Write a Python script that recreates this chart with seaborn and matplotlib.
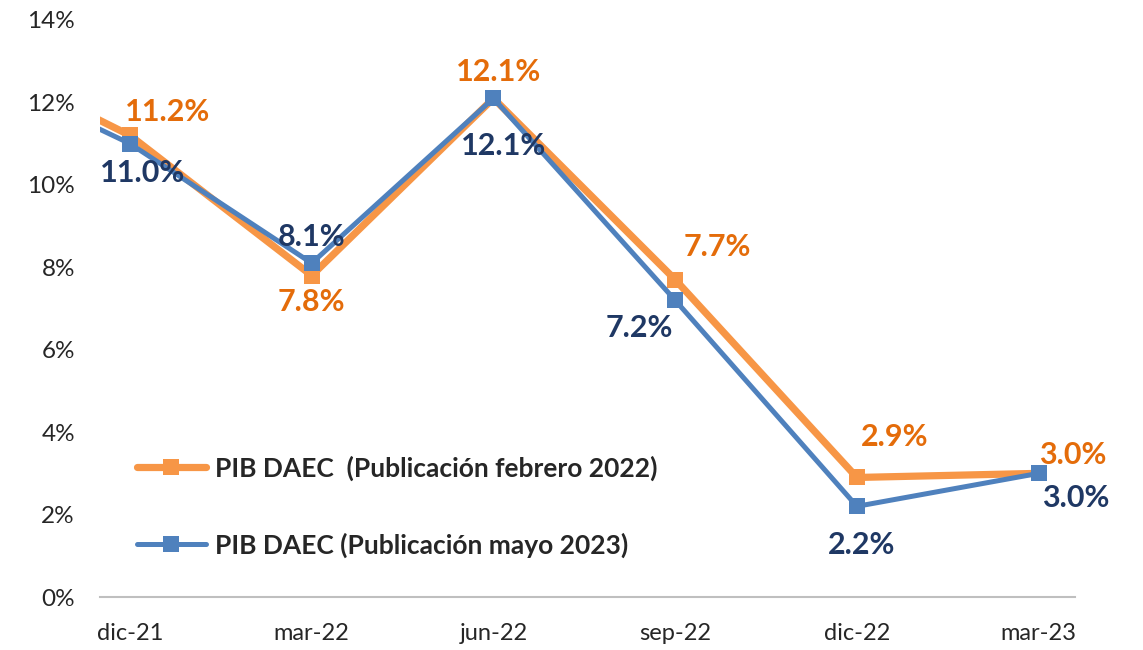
import matplotlib
matplotlib.use("Agg")
import matplotlib.pyplot as plt
import seaborn as sns
import pandas as pd
import numpy as np

# ---- data ----
periods = ["sep-21", "dic-21", "mar-22", "jun-22", "sep-22", "dic-22", "mar-23"]
pib_feb2022 = [13.4, 11.2, 7.8, 12.1, 7.7, 2.9, 3.0]
pib_may2023 = [13.1, 11.0, 8.1, 12.1, 7.2, 2.2, 3.0]
series_names = ["PIB DAEC  (Publicación febrero 2022)", "PIB DAEC (Publicación mayo 2023)"]
y_ticks = [0, 2, 4, 6, 8, 10, 12, 14]

# label offsets in pixels (styling)
off_orange = [None, (38, 23), (0, -26), (5, 26), (42, 33), (38, 40), (34, 18)]
off_blue = [None, (13, -29), (0, 26), (10, -48), (-36, -28), (5, -39), (37, -25)]

sns.set_style("white")
plt.rcParams["font.family"] = ["Lato", "DejaVu Sans"]

orange_line = "#F79646"
orange_text = "#E46C0A"
blue_line = "#4F81BD"
blue_text = "#1F3864"

x = np.arange(len(periods))
df = pd.DataFrame({"x": x, "feb": pib_feb2022, "may": pib_may2023})

fig = plt.figure(figsize=(11.43, 6.5), dpi=100)
ax = fig.add_axes([100 / 1143, 1 - 597 / 650, 975 / 1143, 577 / 650])

sns.lineplot(data=df, x="x", y="feb", ax=ax, color=orange_line, linewidth=5.2,
             marker="s", markersize=11.5, markeredgewidth=0, label=series_names[0],
             clip_on=True)
sns.lineplot(data=df, x="x", y="may", ax=ax, color=blue_line, linewidth=3.6,
             marker="s", markersize=11.5, markeredgewidth=0, label=series_names[1],
             clip_on=True)

ax.set_xlim(1 - 0.165, 6.20)
ax.set_ylim(0, 14)
ax.set_yticks(y_ticks)
ax.set_yticklabels([f"{v}%" for v in y_ticks], fontsize=17.5, color="#262626")
ax.tick_params(axis="y", length=0, pad=18)

shown = list(range(1, len(periods)))
ax.set_xticks([i - 0.165 for i in shown])
ax.set_xticklabels([])
ax.set_xticks(shown, minor=True)
ax.set_xticklabels([periods[i] for i in shown], minor=True, fontsize=17, color="#262626")
ax.tick_params(axis="x", which="major", length=7, color="#BFBFBF", width=1.2, direction="out")
ax.tick_params(axis="x", which="minor", length=0, pad=19)

for s in ["left", "top", "right"]:
    ax.spines[s].set_visible(False)
ax.spines["bottom"].set_color("#BFBFBF")
ax.spines["bottom"].set_linewidth(1.5)
ax.set_xlabel("")
ax.set_ylabel("")

for i in shown:
    ax.annotate(f"{pib_feb2022[i]:.1f}%", (x[i], pib_feb2022[i]), xytext=off_orange[i],
                textcoords="offset pixels", ha="center", va="center",
                fontsize=22, fontweight="bold", color=orange_text)
    ax.annotate(f"{pib_may2023[i]:.1f}%", (x[i], pib_may2023[i]), xytext=off_blue[i],
                textcoords="offset pixels", ha="center", va="center",
                fontsize=22, fontweight="bold", color=blue_text)

leg = ax.legend(loc="upper left", bbox_to_anchor=(37 / 975, 0.245), frameon=False,
                prop={"weight": "bold", "size": 19}, labelspacing=1.95,
                handlelength=2.6, handletextpad=0.35, borderpad=0, borderaxespad=0)

fig.savefig("out.png", dpi=100)
